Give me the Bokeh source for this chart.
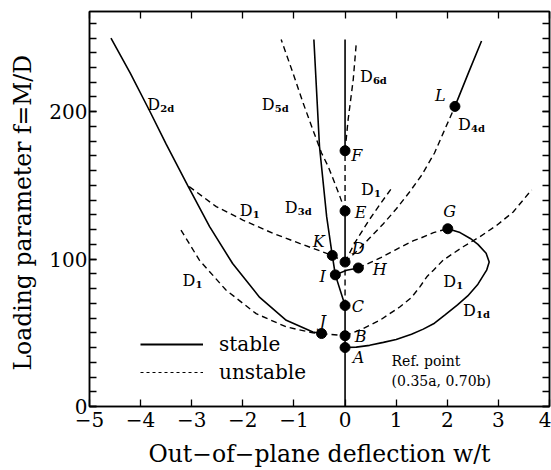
from bokeh.plotting import figure
from bokeh.models import (LinearAxis, FixedTicker, Legend, LegendItem,
                          ColumnDataSource, Range1d)
from bokeh.core.properties import value
from bokeh.embed import file_html
from bokeh.resources import INLINE

# ---------------- data ----------------
# stable (solid) branches
st_axis_lo_x = [0, 0];            st_axis_lo_y = [0, 68.5]
st_axis_de_x = [0, 0];            st_axis_de_y = [98, 132.6]
st_axis_f_x = [0, 0];             st_axis_f_y = [173.5, 249]
st_d3d_x = [-0.61, -0.50, -0.36, -0.25, -0.19, 0]
st_d3d_y = [249, 176.4, 128.8, 102.5, 89.3, 68.5]
st_d2d_x = [-4.58, -4.2, -3.83, -3.5, -3.08, -2.65, -2.2, -1.67, -1.15, -0.63, -0.46]
st_d2d_y = [250, 226, 201, 178, 150, 122, 97, 74, 58.5, 50.5, 49.5]
st_ih_x = [-0.19, 0.03, 0.26];    st_ih_y = [89.3, 92.5, 94]
st_d4d_x = [2.15, 2.41, 2.67];    st_d4d_y = [203.6, 226, 248]
st_d1d_x = [0, 0.22, 0.48, 0.75, 1.0, 1.3, 1.53, 1.75, 1.95, 2.2, 2.4, 2.6,
            2.77, 2.82, 2.76, 2.6, 2.45, 2.25, 2.01]
st_d1d_y = [40, 40.3, 41.5, 43.5, 45.5, 49, 52.5, 56.5, 62, 69, 75, 83,
            92.5, 98, 104, 110, 114, 118, 120.6]

# unstable (dashed) branches
un_axis_cd_x = [0, 0];            un_axis_cd_y = [68.5, 98]
un_axis_ef_x = [0, 0];            un_axis_ef_y = [132.6, 173.5]
un_d5d_x = [0, -0.1, -0.2, -0.33, -0.46, -0.63, -0.82, -1.02, -1.25]
un_d5d_y = [132.6, 142.4, 151.5, 162.8, 172, 187.8, 205.9, 226.3, 249]
un_d6d_x = [0, 0.06, 0.16, 0.22]; un_d6d_y = [173.5, 194.6, 221.8, 246.7]
un_l_x = [0, 0.25, 0.5, 0.75, 1.0, 1.25, 1.5, 1.75, 1.92, 2.15]
un_l_y = [98, 106, 115, 124, 134, 145, 157, 172, 185.5, 203.6]
un_d1s_x = [0, 0.19, 0.48, 0.7, 0.91]
un_d1s_y = [98, 111, 127, 138, 148]
un_d1ul_x = [-3.05, -2.52, -2.0, -1.41, -0.89, -0.36, -0.25, 0]
un_d1ul_y = [149.2, 135.6, 126.5, 117.5, 110.7, 103.9, 102.5, 98]
un_d1ll_x = [-3.21, -2.85, -2.33, -1.74, -1.15, -0.63, -0.46]
un_d1ll_y = [119.7, 99.3, 79, 63, 54, 50, 49.5]
un_jb_x = [-0.46, 0];             un_jb_y = [49.5, 48]
un_d1r_x = [0, 0.3, 0.68, 1.07, 1.3, 1.46, 1.6, 1.73, 1.92, 2.31, 2.64, 2.97, 3.29, 3.65]
un_d1r_y = [48, 52, 58.5, 67.5, 74, 81, 88, 92.5, 99.3, 108.4, 115.2, 123, 132, 147]
un_gh_x = [0.26, 0.48, 0.7, 0.97, 1.34, 1.46, 1.73, 2.01]
un_gh_y = [94, 97.5, 101, 106, 112.5, 114, 118, 120.6]

# marked points
pt_names = ["A", "B", "C", "D", "E", "F", "G", "H", "I", "J", "K", "L"]
pt_x = [0, 0, 0, 0, 0, 0, 2.01, 0.26, -0.19, -0.46, -0.25, 2.15]
pt_y = [40, 48, 68.5, 98, 132.6, 173.5, 120.6, 94, 89.3, 49.5, 102.5, 203.6]

# point-letter label anchors (data coords)
ptl_text = ["A", "B", "C", "D", "E", "F", "G", "H", "I", "J", "K", "L"]
ptl_x = [0.15, 0.19, 0.13, 0.13, 0.19, 0.12, 1.92, 0.54, -0.5, -0.5, -0.63, 1.76]
ptl_y = [33.5, 47.6, 68, 107.5, 131.3, 170, 132, 93.2, 88.4, 57.8, 112.2, 210.9]

# branch labels D with subscripts
br_sub = ["2d", "5d", "6d", "4d", "1", "3d", "1", "1", "1", "1d"]
br_x = [-3.87, -1.63, 0.29, 2.21, 0.31, -1.18, -2.06, -3.18, 1.92, 2.31]
br_y = [204.8, 204.8, 223.8, 191.2, 146.9, 134.7, 133.3, 85.7, 85.0, 65.3]

note_text = ["Ref. point", "(0.35a, 0.70b)"]
note_x = [0.91, 0.91]
note_y = [30.6, 17]

x_ticks = [-5, -4, -3, -2, -1, 0, 1, 2, 3, 4]
x_tick_labels = ["\u22125", "\u22124", "\u22123", "\u22122", "\u22121", "0", "1", "2", "3", "4"]
y_ticks = [0, 100, 200]
y_minor = list(range(0, 270, 10))

# ---------------- figure ----------------
SERIF = "DejaVu Serif"
p = figure(width=551, height=470,
           x_range=Range1d(-5, 4), y_range=Range1d(0, 268),
           output_backend="svg", toolbar_location=None,
           min_border_left=89, min_border_right=2, min_border_top=11,
           min_border_bottom=20,
           x_axis_label="Out\u2212of\u2212plane deflection w/t",
           y_axis_label="Loading parameter  f=M/D")
p.xgrid.visible = False
p.ygrid.visible = False
p.outline_line_color = "black"
p.outline_line_width = 1.5
p.background_fill_color = "white"

bottom = p.below[0]
left = p.left[0]

xt = FixedTicker(ticks=x_ticks, minor_ticks=[])
yt = FixedTicker(ticks=y_ticks, minor_ticks=y_minor)
bottom.ticker = xt
left.ticker = yt
bottom.major_label_overrides = dict(zip(x_ticks, x_tick_labels))

top = LinearAxis(ticker=xt)
right = LinearAxis(ticker=yt)
p.add_layout(top, "above")
p.add_layout(right, "right")

for ax in [bottom, left, top, right]:
    ax.axis_line_width = 1.5
    ax.axis_line_color = "black"
    ax.major_tick_in = 7
    ax.major_tick_out = 0
    ax.minor_tick_in = 7
    ax.minor_tick_out = 0
    ax.major_tick_line_width = 1.3
    ax.minor_tick_line_width = 1.3
    ax.major_tick_line_color = "black"
    ax.minor_tick_line_color = "black"
    ax.major_label_text_font = SERIF
    ax.major_label_text_font_size = "20px"
    ax.major_label_text_color = "black"
    ax.axis_label_text_font = SERIF
    ax.axis_label_text_font_style = "normal"
    ax.axis_label_text_color = "black"

bottom.axis_label_text_font_size = "23.5px"
left.axis_label_text_font_size = "23.5px"

for ax in [bottom, top]:
    ax.minor_tick_line_color = None
top.major_label_overrides = {t: "" for t in x_ticks}
right.major_label_overrides = {t: "" for t in y_ticks}
for ax in [top, right]:
    ax.major_label_text_font_size = "1px"
    ax.major_label_standoff = 0

bottom.major_label_standoff = 5
bottom.axis_label_standoff = 10
left.major_label_standoff = 2
left.axis_label_standoff = 9

DASH = "6 4"
solid = [(st_axis_lo_x, st_axis_lo_y), (st_axis_de_x, st_axis_de_y),
         (st_axis_f_x, st_axis_f_y), (st_d3d_x, st_d3d_y),
         (st_d2d_x, st_d2d_y), (st_ih_x, st_ih_y), (st_d4d_x, st_d4d_y),
         (st_d1d_x, st_d1d_y)]
dashed = [(un_axis_cd_x, un_axis_cd_y), (un_axis_ef_x, un_axis_ef_y),
          (un_d5d_x, un_d5d_y), (un_d6d_x, un_d6d_y), (un_l_x, un_l_y),
          (un_d1s_x, un_d1s_y), (un_d1ul_x, un_d1ul_y), (un_d1ll_x, un_d1ll_y),
          (un_jb_x, un_jb_y), (un_d1r_x, un_d1r_y), (un_gh_x, un_gh_y)]
for xs, ys in dashed:
    p.line(xs, ys, line_color="black", line_width=1.4, line_dash=DASH)
for xs, ys in solid:
    p.line(xs, ys, line_color="black", line_width=1.6)

p.scatter(pt_x, pt_y, size=10, color="black")

# legend-only renderers (no visible data)
nan = float("nan")
leg_s = p.line([nan], [nan], line_color="black", line_width=2)
leg_d = p.line([nan], [nan], line_color="black", line_width=1.1, line_dash="3 3")
legend = Legend(items=[LegendItem(label="stable", renderers=[leg_s]),
                       LegendItem(label="unstable", renderers=[leg_d])],
                location=(51, 22), border_line_color=None,
                background_fill_alpha=0, padding=0, margin=0, spacing=4,
                glyph_width=63, glyph_height=20, label_height=20,
                label_standoff=16, label_text_font=SERIF,
                label_text_font_size="20px", label_text_color="black")
p.add_layout(legend, "center")

# point letters
src_pl = ColumnDataSource(dict(x=ptl_x, y=ptl_y, t=ptl_text))
p.text(x="x", y="y", text="t", source=src_pl, text_font=value(SERIF),
       text_font_style="italic", text_font_size="16px", text_align="left",
       text_baseline="middle", text_color="black")

# branch labels
src_br = ColumnDataSource(dict(x=br_x, y=br_y, s=br_sub, d=["D"] * len(br_x)))
p.text(x="x", y="y", text="d", source=src_br, text_font=value(SERIF),
       text_font_size="16px", text_align="left", text_baseline="middle",
       text_color="black")
p.text(x="x", y="y", text="s", source=src_br, text_font=value(SERIF),
       text_font_size="10px", text_font_style="bold", text_align="left",
       text_baseline="middle", x_offset=13, y_offset=4, text_color="black")

# reference point note
src_n = ColumnDataSource(dict(x=note_x, y=note_y, t=note_text))
p.text(x="x", y="y", text="t", source=src_n, text_font=value(SERIF),
       text_font_size="14px", text_align="left", text_baseline="middle",
       text_color="black")

open("out.html", "w").write(file_html(p, INLINE))
